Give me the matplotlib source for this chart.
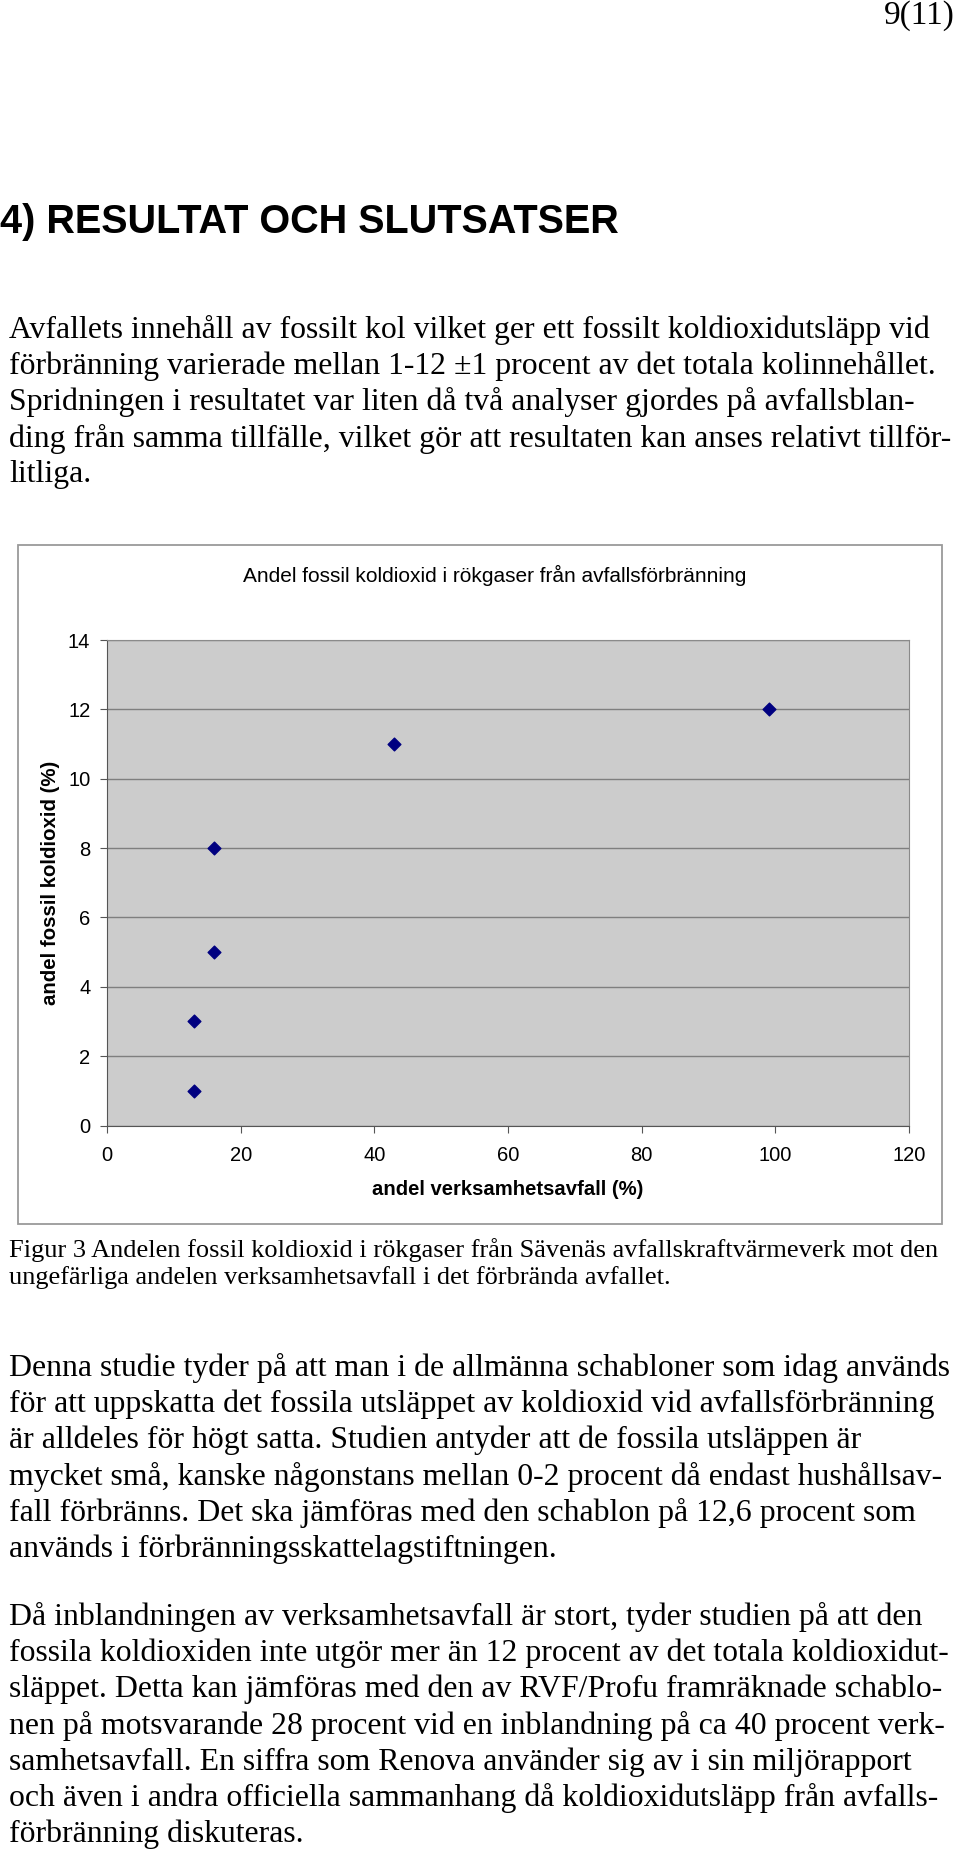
import matplotlib
matplotlib.use('Agg')
import matplotlib.pyplot as plt
from matplotlib.patches import Rectangle

# data
andel_verksamhetsavfall = [13, 13, 16, 16, 43, 99]
andel_fossil_co2 = [1, 3, 5, 8, 11, 12]

x_ticks = [0, 20, 40, 60, 80, 100, 120]
y_ticks = [0, 2, 4, 6, 8, 10, 12, 14]

title = 'Andel fossil koldioxid i rökgaser från avfallsförbränning'
xlabel = 'andel verksamhetsavfall (%)'
ylabel = 'andel fossil koldioxid (%)'

heading = '4) RESULTAT OCH SLUTSATSER'
para1 = [
    'Avfallets innehåll av fossilt kol vilket ger ett fossilt koldioxidutsläpp vid',
    'förbränning varierade mellan 1-12 ±1 procent av det totala kolinnehållet.',
    'Spridningen i resultatet var liten då två analyser gjordes på avfallsblan-',
    'ding från samma tillfälle, vilket gör att resultaten kan anses relativt tillför-',
    'litliga.',
]
caption = [
    'Figur 3 Andelen fossil koldioxid i rökgaser från Sävenäs avfallskraftvärmeverk mot den',
    'ungefärliga andelen verksamhetsavfall i det förbrända avfallet.',
]
para2 = [
    'Denna studie tyder på att man i de allmänna schabloner som idag används',
    'för att uppskatta det fossila utsläppet av koldioxid vid avfallsförbränning',
    'är alldeles för högt satta. Studien antyder att de fossila utsläppen är',
    'mycket små, kanske någonstans mellan 0-2 procent då endast hushållsav-',
    'fall förbränns. Det ska jämföras med den schablon på 12,6 procent som',
    'används i förbränningsskattelagstiftningen.',
]
para3 = [
    'Då inblandningen av verksamhetsavfall är stort, tyder studien på att den',
    'fossila koldioxiden inte utgör mer än 12 procent av det totala koldioxidut-',
    'släppet. Detta kan jämföras med den av RVF/Profu framräknade schablo-',
    'nen på motsvarande 28 procent vid en inblandning på ca 40 procent verk-',
    'samhetsavfall. En siffra som Renova använder sig av i sin miljörapport',
    'och även i andra officiella sammanhang då koldioxidutsläpp från avfalls-',
    'förbränning diskuteras.',
]

W, H = 960, 1854
fig = plt.figure(figsize=(W / 100, H / 100), dpi=100)
fig.patch.set_facecolor('white')


def px(x, y):
    return x / W, 1 - y / H


serif = 'Liberation Serif'
sans = 'Liberation Sans'

fig.text(*px(955, 16), '9(11)', family=serif, fontsize=24, ha='right', va='center')
fig.text(*px(0, 222), heading, family=sans, fontsize=28.5, fontweight='bold', va='center')


def paragraph(lines, y0, step, size):
    for i, line in enumerate(lines):
        fig.text(*px(9, y0 + i * step), line, family=serif, fontsize=size, va='center')


paragraph(para1, 330, 36.2, 22.9)
paragraph(caption, 1250, 28, 19)
paragraph(para2, 1368, 36.2, 22.9)
paragraph(para3, 1617, 36.2, 22.9)

# chart frame
fig.patches.append(Rectangle(px(18, 1224), (942 - 18) / W, (1224 - 545) / H,
                             transform=fig.transFigure, fill=False,
                             edgecolor='#9a9a9a', linewidth=1.3))
fig.text(*px(495, 575), title, family=sans, fontsize=15, ha='center', va='center')

l, b = px(107, 1125.5)
ax = fig.add_axes([l, b, (909 - 107) / W, (1125.5 - 640) / H])
ax.set_facecolor('#cccccc')
ax.scatter(andel_verksamhetsavfall, andel_fossil_co2, marker='D', s=42,
           color='#000080', zorder=3)
ax.set_xlim(0, 120)
ax.set_ylim(0, 14)
ax.set_xticks(x_ticks)
ax.set_yticks(y_ticks)
ax.grid(axis='y', color='#7f7f7f', linewidth=1.0)
ax.set_axisbelow(True)
for s in ['top', 'right']:
    ax.spines[s].set_color('#8a8a8a')
for s in ['left', 'bottom']:
    ax.spines[s].set_color('#555555')
ax.tick_params(direction='out', length=5, color='#555555', labelsize=14.5)
for t in ax.get_xticklabels() + ax.get_yticklabels():
    t.set_family(sans)
ax.tick_params(axis='x', pad=10)
ax.tick_params(axis='y', pad=7)
ax.set_xlabel(xlabel, family=sans, fontsize=14.6, fontweight='bold')
ax.set_ylabel(ylabel, family=sans, fontsize=14.7, fontweight='bold')
ax.xaxis.set_label_coords(0.5, -0.131)
ax.yaxis.set_label_coords(-0.071, 0.5)
ax.xaxis.label.set_va('center')
ax.yaxis.label.set_va('center')

fig.savefig('out.png', dpi=100)
